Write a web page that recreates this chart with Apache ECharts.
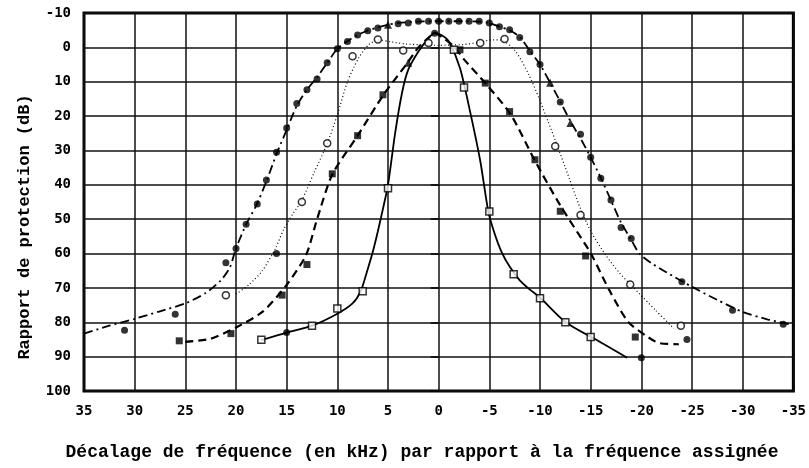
<!DOCTYPE html>
<html>
<head>
<meta charset="utf-8">
<script src="https://cdn.jsdelivr.net/npm/echarts@6/dist/echarts.min.js"></script>
<style>
html,body{margin:0;padding:0;background:#fff;}
#c{width:809px;height:468px;}
</style>
</head>
<body>
<div id="c"></div>
<script>
// Axis settings
const xTicks = [35,30,25,20,15,10,5,0,-5,-10,-15,-20,-25,-30,-35];
const yTicks = [-10,0,10,20,30,40,50,60,70,80,90,100];
const xTitle = "Décalage de fréquence (en kHz) par rapport à la fréquence assignée";
const yTitle = "Rapport de protection (dB)";

// Curves [kHz, dB]
const dashDotLine = [[35,83.3],[32.5,81],[30,79],[27.5,76.8],[25,74.5],[23,71.5],[21.5,67.8],[20.6,64],[20,58.5],[19,51.5],[18,46],[17,39],[16,31],[15,24],[14,17],[13,12.3],[12,8.7],[11,4.5],[10,0.4],[9,-1.8],[8,-3.6],[7,-4.9],[6,-5.8],[5,-6.6],[4,-7.1],[2,-7.5],[0,-7.6],[-2,-7.6],[-4,-7.5],[-5,-7.1],[-6,-6],[-7,-5],[-8,-3],[-9,1],[-10,5],[-11,10.3],[-12,15.8],[-13,21.5],[-14,26.5],[-15,32],[-16,38],[-17,44.5],[-18,51],[-19,56],[-19.8,60],[-21,62.8],[-22.5,65.5],[-25,69.7],[-27.5,73.5],[-30,77],[-32.5,79.2],[-35,80.8]];
const dottedLine = [[20,71.8],[18.7,69],[17.4,65],[16.1,58.5],[15.3,53],[14.4,48.5],[13.5,44.5],[12.3,36.5],[11,28],[10,19.6],[9,10],[7.9,3.1],[6.9,-0.8],[5.9,-2.2],[4.9,-1.7],[3.3,-1],[1.5,-0.7],[0,-0.6],[-2.3,-0.8],[-3.9,-1.4],[-5.3,-2.2],[-6.2,-2.1],[-7.6,1.2],[-8.9,8],[-9.9,14.8],[-10.8,21.6],[-11.5,27],[-12.5,35],[-14,47],[-15.1,54],[-16.5,60.5],[-17.8,65.5],[-19.1,69.5],[-21.4,76.5],[-23.2,81.8]];
const dashedLine = [[25,85.7],[22.5,84.8],[20,81.5],[17.4,77],[15.1,69.5],[13.1,60.5],[12,50],[10.5,37],[8,25.7],[5.4,13.6],[3.1,4.6],[2,0],[1,-2.8],[0.4,-4.2],[-0.3,-3],[-1.5,-0.3],[-2.5,3.5],[-4.6,10.4],[-7.1,19.5],[-9.5,33],[-12,46],[-14.5,57.5],[-15.1,60.4],[-16.9,71],[-18.7,79.9],[-20.4,83.8],[-21.7,86],[-23.7,86.4]];
const solidLine = [[17.5,85.2],[15,83],[12.5,81],[10,77.5],[8.5,74.5],[7.7,71],[7.1,65.5],[6.5,59.5],[6,53.5],[5.5,47],[5,40],[4.3,25],[3.6,13],[3,6.5],[2,1.2],[1,-2.7],[0.4,-4.2],[-0.3,-3.5],[-1,-1.7],[-2.1,6],[-3.1,18.7],[-4.1,33],[-4.9,47.8],[-5.5,54],[-6.2,59.5],[-7,63.8],[-8,67.8],[-9,70.5],[-10,72.8],[-12.5,79.9],[-15.8,85.5],[-18.6,90.3]];

// Measured points
const filledCircles = [[31,82.3],[26,77.7],[21,62.7],[20,58.5],[19,51.5],[17.9,45.6],[17,38.6],[16,30.5],[15,23.5],[14,16.3],[13,12.3],[12,9.2],[11,4.5],[10,0.4],[9,-1.7],[8,-3.6],[7,-4.8],[6,-5.6],[4,-6.9],[3,-7.1],[2,-7.6],[1,-7.6],[0,-7.6],[-1,-7.6],[-2,-7.6],[-3,-7.6],[-4,-7.6],[-5,-7.1],[-6,-6],[-7,-5.1],[-8,-2.9],[-9,1.3],[-10,5],[-12,15.9],[-14,25.3],[-15,32],[-16,38.1],[-17,44.4],[-18,52.4],[-19,55.6],[-24,68.2],[-29,76.5],[-34,80.6],[16,60],[-24.5,85],[15,83],[0.4,-4.1],[-20,90.3]];
const triangles = [[5,-6.6],[-11,10.3],[-13,22],[3,4.5]];
const openCircles = [[21,72.1],[13.5,45],[11,27.9],[8.5,2.6],[6,-2.3],[3.5,0.9],[1,-1.3],[-4.1,-1.3],[-6.5,-2.4],[-11.5,28.8],[-14,48.8],[-18.9,69],[-23.9,81]];
const openSquares = [[17.5,85.1],[12.5,81],[10,76],[7.5,71],[5,41],[-1.5,0.7],[-2.5,11.7],[-5,47.8],[-7.4,66],[-10,73],[-12.5,80],[-15,84.3]];
const filledSquares = [[25.6,85.4],[20.5,83.3],[15.45,72.1],[13,63.2],[10.5,36.8],[8,25.7],[5.5,13.8],[-2.1,0.7],[-4.6,10.4],[-7,18.7],[-9.5,32.7],[-12,47.7],[-14.5,60.7],[-19.4,84.3]];

const chart = echarts.init(document.getElementById('c'), null, {renderer:'canvas'});
const labelFont = {fontFamily:'DejaVu Sans Mono', fontWeight:'bold', fontSize:14, color:'#000'};

function lineSeries(data, type, width){
  return {type:'line', data:data, smooth:0.25, showSymbol:false, symbol:'none', z:3,
    lineStyle:{color:'#000', width:width, type:type}};
}
function scatter(data, symbol, size, fill){
  return {type:'scatter', data:data, symbol:symbol, symbolSize:size, z:5,
    itemStyle:{color:fill ? '#000' : '#fff', borderColor:'#000', borderWidth:fill ? 0 : 1.5}};
}

chart.setOption({
  animation:false,
  backgroundColor:'#fff',
  grid:{left:84, top:13, width:710, height:378, show:true, borderColor:'#000', borderWidth:3, backgroundColor:'transparent'},
  xAxis:{type:'value', min:-35, max:35, interval:5, inverse:true,
    axisLine:{show:false}, axisTick:{show:false},
    axisLabel:Object.assign({margin:13}, labelFont),
    splitLine:{show:true, lineStyle:{color:'#111', width:1.5}}},
  yAxis:{type:'value', min:-10, max:100, interval:10, inverse:true,
    axisLine:{show:false}, axisTick:{show:true, length:8, lineStyle:{color:'#000', width:1.5}},
    axisLabel:Object.assign({margin:13}, labelFont),
    splitLine:{show:true, lineStyle:{color:'#111', width:1.5}}},
  graphic:[
    {type:'text', x:422, y:452, style:{text:xTitle, font:'bold 18px "Liberation Mono"', fill:'#000', align:'center', verticalAlign:'middle'}},
    {type:'text', x:25, y:227, rotation:Math.PI/2, style:{text:yTitle, font:'bold 17px "Liberation Mono"', fill:'#000', align:'center', verticalAlign:'middle'}}
  ],
  series:[
    lineSeries(dashDotLine, [9,4,2,4], 1.8),
    lineSeries(dottedLine, [1,2.5], 1.2),
    lineSeries(dashedLine, [8,5], 2.2),
    lineSeries(solidLine, 'solid', 1.8),
    scatter(filledCircles, 'circle', 7, true),
    scatter(triangles, 'triangle', 8, true),
    scatter(filledSquares, 'rect', 7, true),
    scatter(openCircles, 'circle', 7, false),
    scatter(openSquares, 'rect', 7, false)
  ]
});
</script>
</body>
</html>
